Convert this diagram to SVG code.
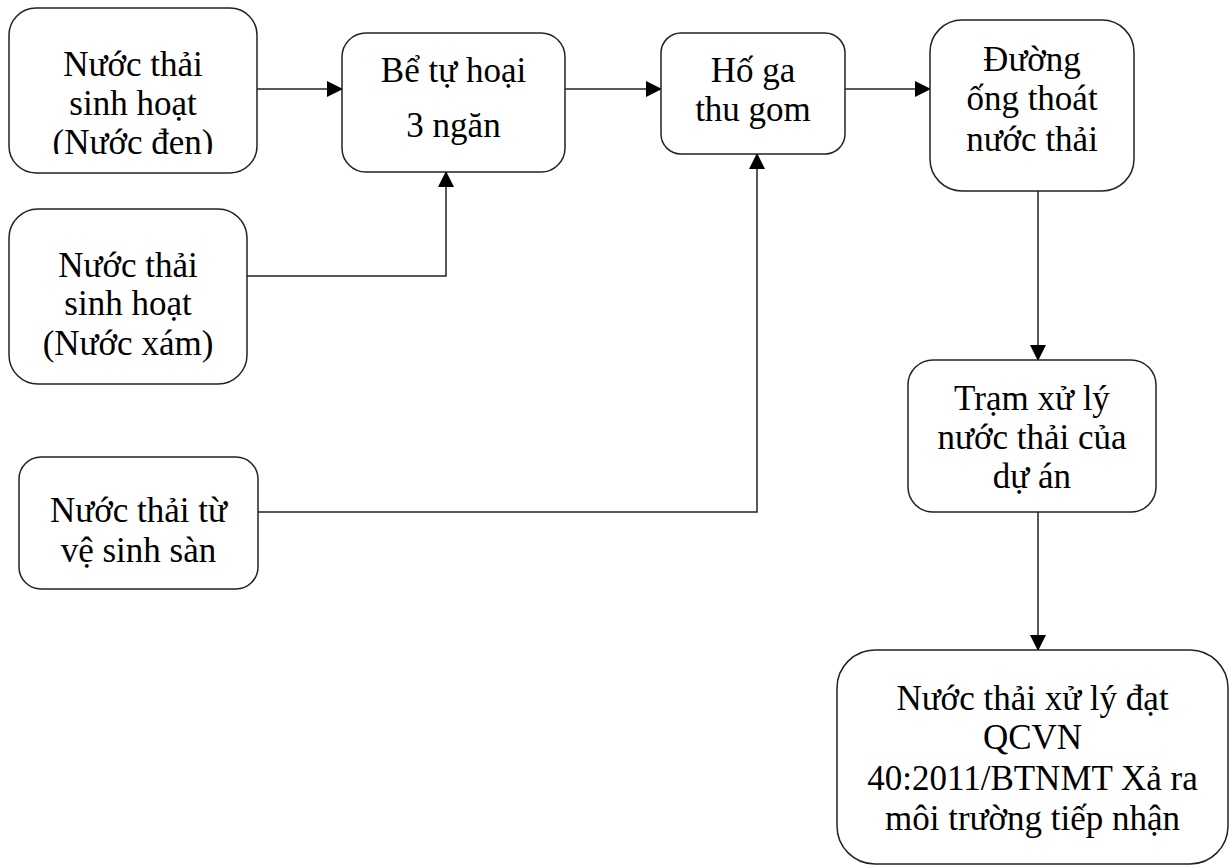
<svg xmlns="http://www.w3.org/2000/svg" width="1232" height="866" viewBox="0 0 1232 866">
<style>
.box{fill:#fff;stroke:#222;stroke-width:1.5}
.t{font-family:"Liberation Serif","Times New Roman",serif;font-size:35px;fill:#000;text-anchor:middle}
.c{fill:none;stroke:#222;stroke-width:1.5}
</style>
<defs>
<marker id="ah" viewBox="0 0 16 16" refX="15" refY="8" markerWidth="16" markerHeight="16" markerUnits="userSpaceOnUse" orient="auto">
<path d="M0,0 L16,8 L0,16 Z" fill="#000"/>
</marker>
<clipPath id="clip1"><rect x="9" y="8" width="248" height="146"/></clipPath>
</defs>
<g id="connectors">
<line class="c" x1="257" y1="89" x2="342" y2="89" marker-end="url(#ah)"/>
<line class="c" x1="565" y1="89" x2="661" y2="89" marker-end="url(#ah)"/>
<line class="c" x1="845" y1="89" x2="930" y2="89" marker-end="url(#ah)"/>
<polyline class="c" points="247,276 446,276 446,172" marker-end="url(#ah)"/>
<polyline class="c" points="258,512 757,512 757,154" marker-end="url(#ah)"/>
<line class="c" x1="1038" y1="191" x2="1038" y2="360" marker-end="url(#ah)"/>
<line class="c" x1="1038" y1="512" x2="1038" y2="650" marker-end="url(#ah)"/>
</g>
<g id="n1">
<rect class="box" x="9" y="8" width="248" height="165" rx="27" ry="27"/>
<g clip-path="url(#clip1)">
<text class="t" x="133" y="76">Nước thải</text>
<text class="t" x="133" y="115">sinh hoạt</text>
<text class="t" x="133" y="154">(Nước đen)</text>
</g>
</g>
<g id="n2">
<rect class="box" x="342" y="33" width="223" height="139" rx="24" ry="24"/>
<text class="t" x="453.5" y="82">Bể tự hoại</text>
<text class="t" x="453.5" y="137">3 ngăn</text>
</g>
<g id="n3">
<rect class="box" x="661" y="33" width="184" height="121" rx="20" ry="20"/>
<text class="t" x="753" y="82">Hố ga</text>
<text class="t" x="753" y="121">thu gom</text>
</g>
<g id="n4">
<rect class="box" x="930" y="20" width="204" height="171" rx="32" ry="32"/>
<text class="t" x="1032" y="71">Đường</text>
<text class="t" x="1032" y="110">ống thoát</text>
<text class="t" x="1032" y="151">nước thải</text>
</g>
<g id="n5">
<rect class="box" x="9" y="209" width="238" height="175" rx="29" ry="29"/>
<text class="t" x="128" y="277">Nước thải</text>
<text class="t" x="128" y="315">sinh hoạt</text>
<text class="t" x="128" y="355">(Nước xám)</text>
</g>
<g id="n6">
<rect class="box" x="19" y="457" width="239" height="132" rx="22" ry="22"/>
<text class="t" x="138.5" y="522">Nước thải từ</text>
<text class="t" x="138.5" y="562">vệ sinh sàn</text>
</g>
<g id="n7">
<rect class="box" x="908" y="360" width="248" height="152" rx="25" ry="25"/>
<text class="t" x="1032" y="410">Trạm xử lý</text>
<text class="t" x="1032" y="449">nước thải của</text>
<text class="t" x="1032" y="488">dự án</text>
</g>
<g id="n8">
<rect class="box" x="837" y="650" width="391" height="214" rx="38" ry="38"/>
<text class="t" x="1032.5" y="710">Nước thải xử lý đạt</text>
<text class="t" x="1032.5" y="749">QCVN</text>
<text class="t" x="1032.5" y="790">40:2011/BTNMT Xả ra</text>
<text class="t" x="1032.5" y="830">môi trường tiếp nhận</text>
</g>
</svg>
